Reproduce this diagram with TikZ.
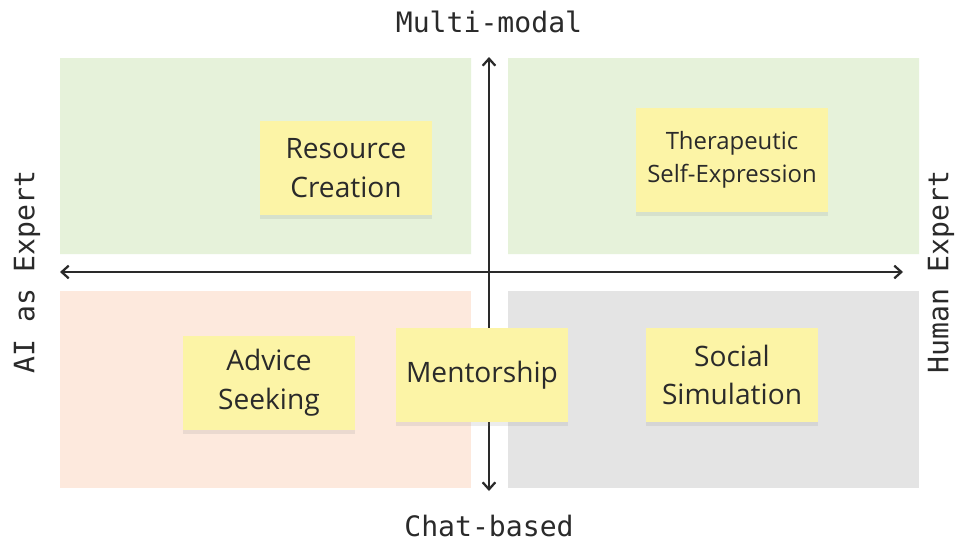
\documentclass[tikz,border=0pt]{standalone}
\usepackage{fontspec}
\setmainfont{Open Sans}
\setmonofont{DejaVu Sans Mono}
\usetikzlibrary{arrows.meta,shadows}
\definecolor{quadgreen}{HTML}{E6F2DA}
\definecolor{quadpeach}{HTML}{FDE9DD}
\definecolor{quadgray}{HTML}{E4E4E4}
\definecolor{noteyellow}{HTML}{FCF4A6}
\definecolor{inkgray}{HTML}{2A2A2A}

\begin{document}
\begin{tikzpicture} [x=0.025cm, y=-0.025cm,
		axis/.style={line width=1.6pt, inkgray, {Straight Barb[length=5pt,width=9pt,line width=1.6pt]}-{Straight Barb[length=5pt,width=9pt,line width=1.6pt]}},
		note/.style={fill=noteyellow, draw=none, minimum width=4.3cm, minimum height=2.35cm, align=center, text=inkgray, font=\fontsize{20}{27.5}\selectfont, drop shadow={opacity=0.15, shadow xshift=0pt, shadow yshift=-3pt}},
		axlabel/.style={text=inkgray, font=\ttfamily\fontsize{20}{24}\selectfont}]
		\useasboundingbox [fill=white] (0,0) rectangle (979,548);
		% quadrants
		\fill [quadgreen] (60,58) rectangle (471,254) (508,58) rectangle (919,254);
		\fill [quadpeach] (60,291) rectangle (471,488);
		\fill [quadgray] (508,291) rectangle (919,488);
		% axes
		\coordinate (W) at (60,272);
		\coordinate (E) at (903,272);
		\coordinate (N) at (489,57);
		\coordinate (S) at (489,491);
		\draw [axis] (W) -- (E);
		\draw [axis] (S) -- (N);
		\node [axlabel] (multi) at (489,22) {Multi-modal};
		\node [axlabel] (chat) at (489,526) {Chat-based};
		\node [axlabel, rotate=90] (aiexp) at (27,272) {AI as Expert};
		\node [axlabel, rotate=90] (humexp) at (941,272) {Human Expert};
		% sticky notes
		\node [note] (resource) at (346,168) {Resource\\Creation};
		\node [note, minimum width=4.8cm, minimum height=2.6cm, font=\fontsize{17}{23.5}\selectfont] (therapy) at (732,160) {Therapeutic\\Self-Expression};
		\node [note] (advice) at (269,383) {Advice\\Seeking};
		\node [note] (mentor) at (482,375) {Mentorship};
		\node [note] (social) at (732,375) {Social\\Simulation};
\end{tikzpicture}
\end{document}
